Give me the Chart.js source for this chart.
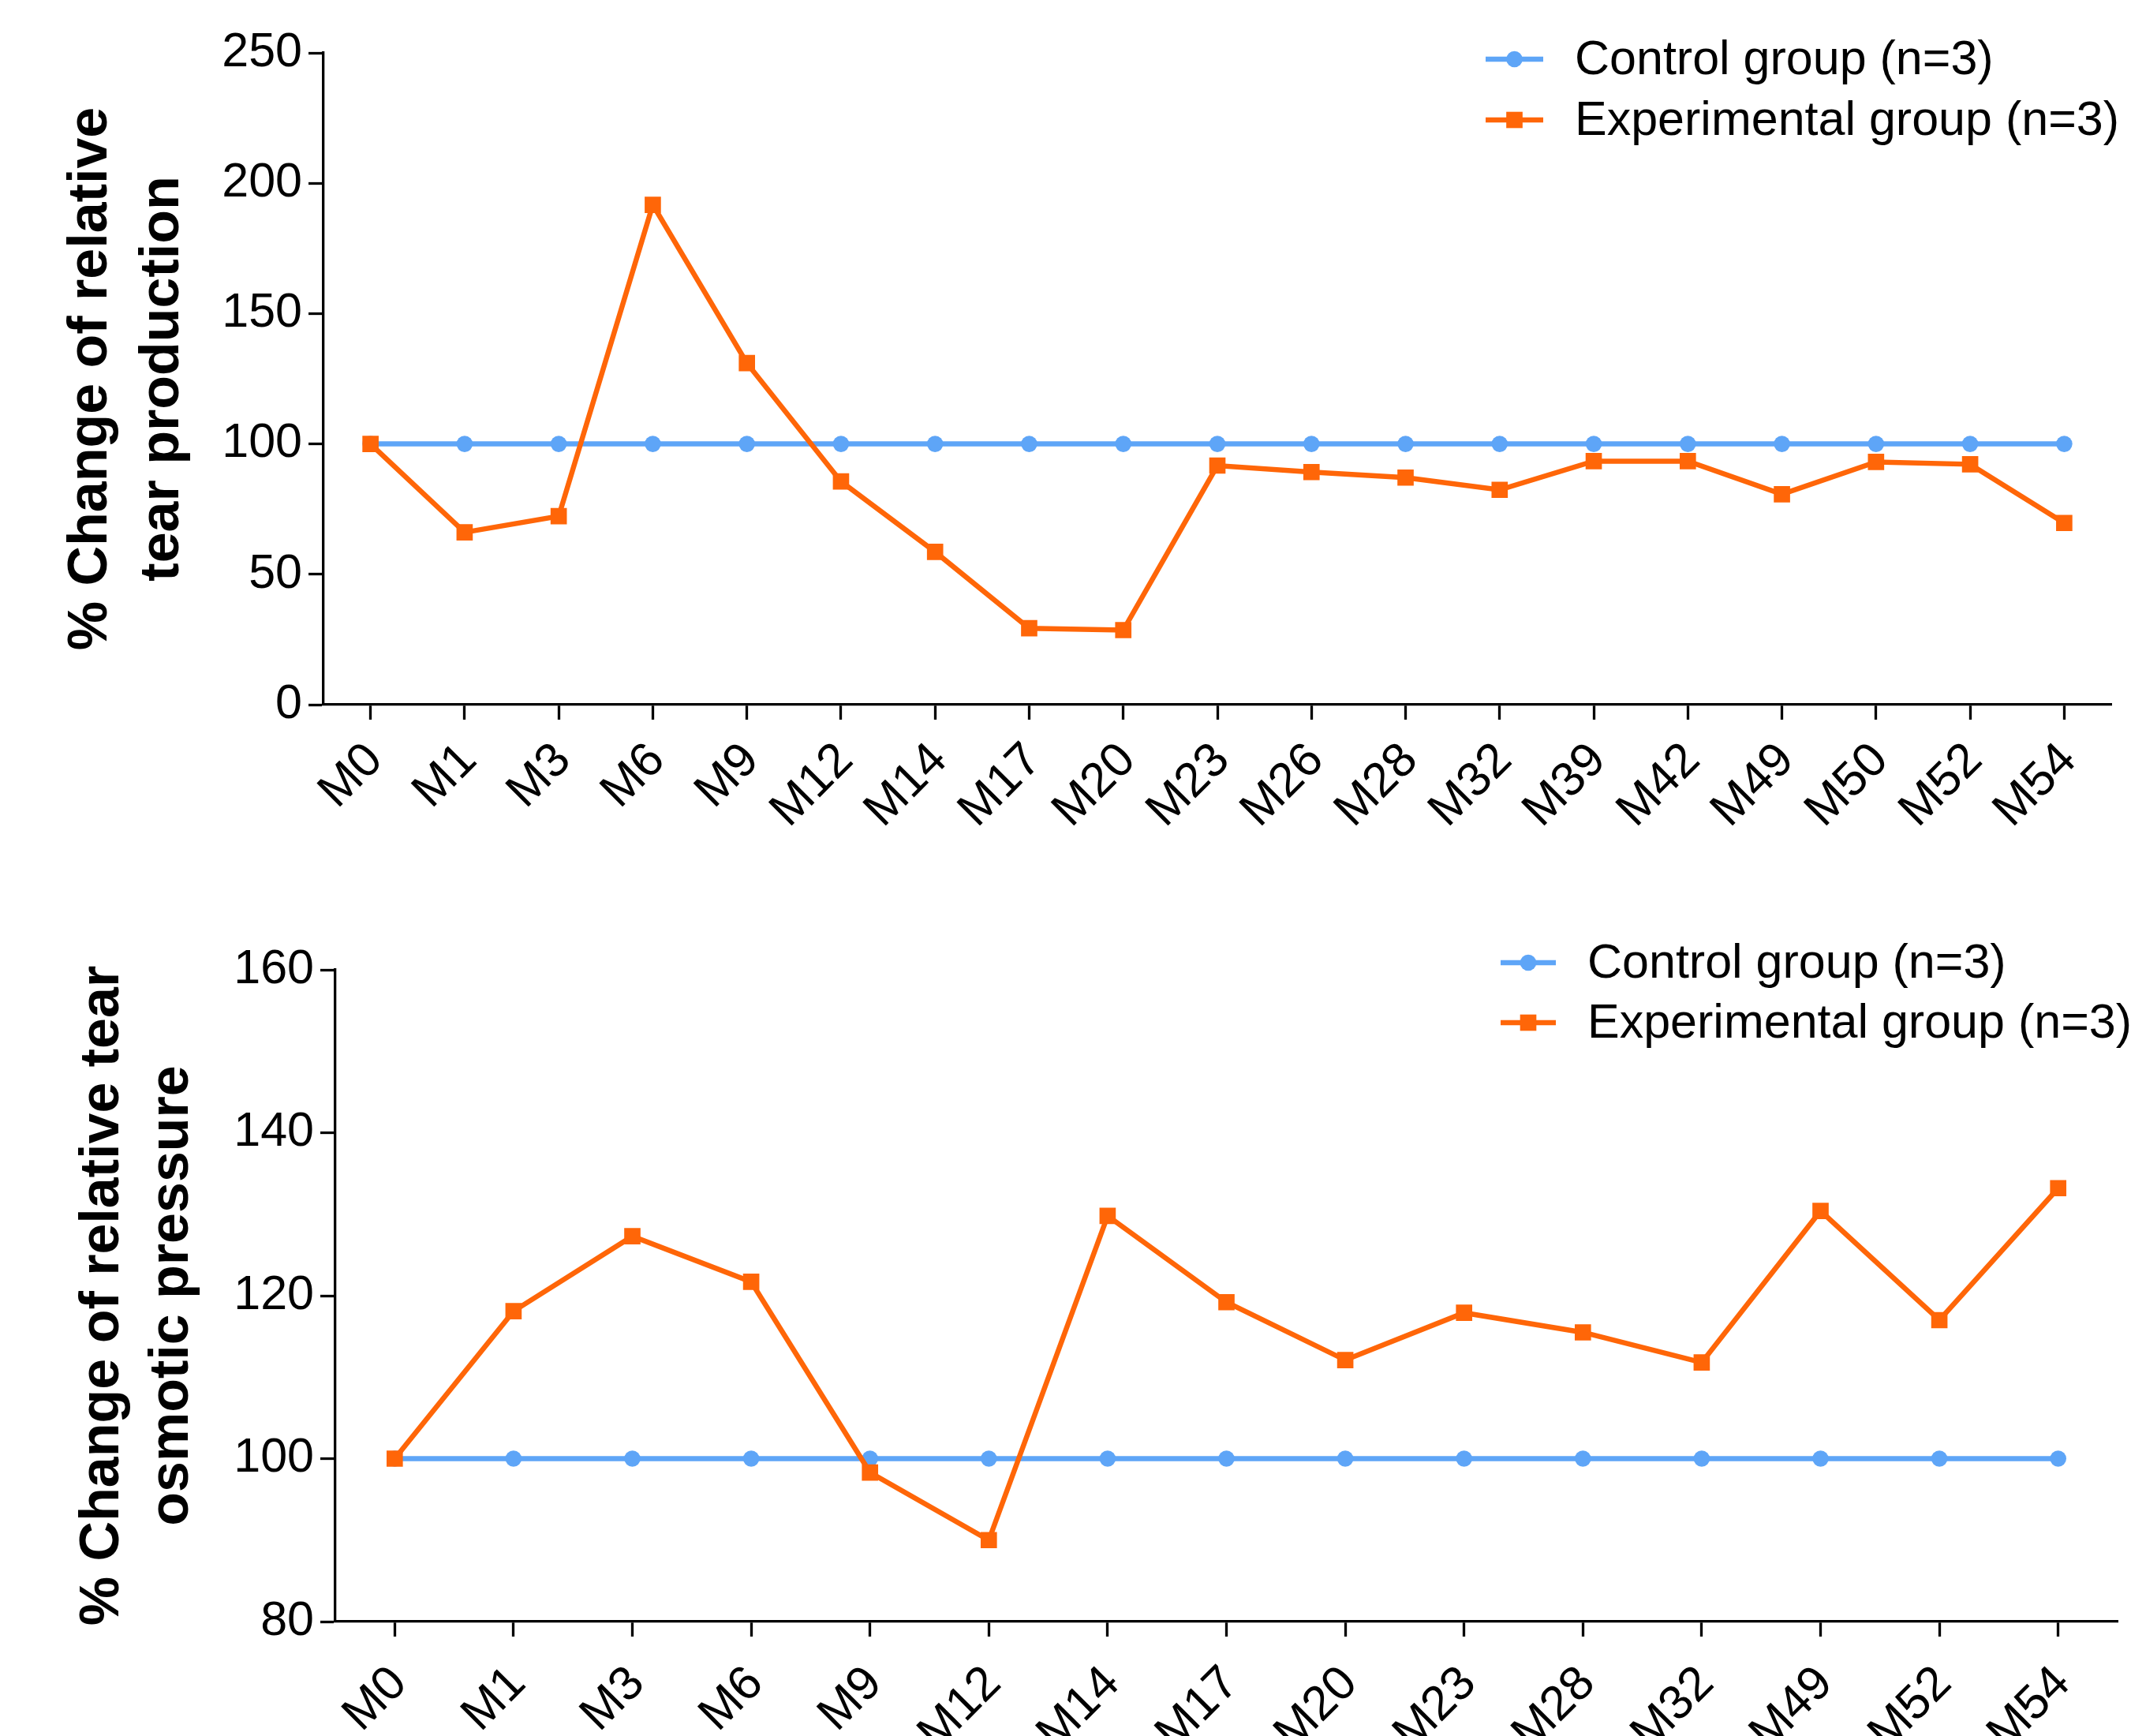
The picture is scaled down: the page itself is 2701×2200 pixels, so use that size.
<!DOCTYPE html>
<html>
<head>
<meta charset="utf-8">
<script src="https://cdn.jsdelivr.net/npm/chart.js@4.4.1/dist/chart.umd.min.js"></script>
<style>
  html, body { margin: 0; padding: 0; background: #fff; }
  canvas { display: block; }
</style>
</head>
<body>
<canvas id="graficaProduccion" width="2701" height="1100"></canvas>
<canvas id="graficaPresion" width="2701" height="1100"></canvas>
<script>
// datos
const topLabels = ["M0","M1","M3","M6","M9","M12","M14","M17","M20","M23","M26","M28","M32","M39","M42","M49","M50","M52","M54"];
const topControl = [100,100,100,100,100,100,100,100,100,100,100,100,100,100,100,100,100,100,100];
const topExperimental = [100,66.1,72.3,191.7,131.0,85.6,58.6,29.3,28.6,91.7,89.2,87.1,82.4,93.4,93.4,80.7,93.1,92.2,69.7];

const bottomLabels = ["M0","M1","M3","M6","M9","M12","M14","M17","M20","M23","M28","M32","M49","M52","M54"];
const bottomControl = [100,100,100,100,100,100,100,100,100,100,100,100,100,100,100];
const bottomExperimental = [100,118.1,127.3,121.7,98.3,90.0,129.8,119.2,112.1,117.9,115.5,111.8,130.4,117.0,133.2];

const controlName = "Control group (n=3)";
const experimentalName = "Experimental group (n=3)";
const topTitle = ["% Change of relative", "tear production"];
const bottomTitle = ["% Change of relative tear", "osmotic pressure"];

const colorControl = "rgb(94,165,247)";
const colorExperimental = "rgb(255,102,8)";
const fontFamily = '"Liberation Sans", Arial, Helvetica, sans-serif';

Chart.defaults.font.family = fontFamily;
Chart.defaults.color = "#000";

// leyenda con linea + marcador, como en la figura original
const lineLegend = {
    id: "lineLegend",
    afterDraw(chart, args, opts) {
        const ctx = chart.ctx;
        ctx.save();
        ctx.font = opts.fontSize + "px " + fontFamily;
        ctx.textBaseline = "middle";
        ctx.textAlign = "left";
        chart.data.datasets.forEach((ds, i) => {
            const y = opts.y + i * opts.rowGap;
            ctx.strokeStyle = ds.borderColor;
            ctx.lineWidth = ds.borderWidth;
            ctx.beginPath();
            ctx.moveTo(opts.x, y);
            ctx.lineTo(opts.x + opts.lineLen, y);
            ctx.stroke();
            ctx.fillStyle = ds.borderColor;
            const cx = opts.x + opts.lineLen / 2;
            if (ds.pointStyle === "rect") {
                const s = ds.pointRadius * Math.SQRT1_2;
                ctx.fillRect(cx - s, y - s, 2 * s, 2 * s);
            } else {
                ctx.beginPath();
                ctx.arc(cx, y, ds.pointRadius, 0, Math.PI * 2);
                ctx.fill();
            }
            ctx.fillStyle = "#000";
            ctx.fillText(ds.label, opts.x + opts.lineLen + opts.textGap, y + 2);
        });
        ctx.restore();
    }
};

function makeChart(id, cfg) {
    return new Chart(id, {
        type: "line",
        data: {
            labels: cfg.labels,
            datasets: [
                {
                    label: controlName,
                    data: cfg.control,
                    borderColor: colorControl,
                    backgroundColor: colorControl,
                    borderWidth: 6.5,
                    pointStyle: "circle",
                    pointRadius: 10.3,
                    pointBorderWidth: 0,
                    tension: 0,
                    order: 1
                },
                {
                    label: experimentalName,
                    data: cfg.experimental,
                    borderColor: colorExperimental,
                    backgroundColor: colorExperimental,
                    borderWidth: 6.5,
                    pointStyle: "rect",
                    pointRadius: 14.6,
                    pointBorderWidth: 0,
                    tension: 0,
                    order: 0
                }
            ]
        },
        options: {
            responsive: false,
            animation: false,
            layout: {
                padding: { top: cfg.padTop, right: cfg.padRight, left: 0, bottom: 0 }
            },
            plugins: {
                legend: { display: false },
                tooltip: { enabled: false },
                lineLegend: cfg.legend
            },
            scales: {
                x: {
                    type: "category",
                    offset: true,
                    grid: {
                        display: true,
                        drawOnChartArea: false,
                        drawTicks: true,
                        offset: false,
                        tickLength: 19,
                        tickWidth: 3.3,
                        tickColor: "#000"
                    },
                    border: { display: true, color: "#000", width: 3.3 },
                    ticks: {
                        autoSkip: false,
                        minRotation: 45,
                        maxRotation: 45,
                        padding: cfg.xPad,
                        labelOffset: 6,
                        font: { size: 61 },
                        color: "#000"
                    },
                    afterFit: (scale) => { scale.height = cfg.xHeight; }
                },
                y: {
                    min: cfg.min,
                    max: cfg.max,
                    grid: {
                        display: true,
                        drawOnChartArea: false,
                        drawTicks: true,
                        tickLength: 19,
                        tickWidth: 3.3,
                        tickColor: "#000"
                    },
                    border: { display: true, color: "#000", width: 3.3 },
                    ticks: {
                        stepSize: cfg.step,
                        padding: 8,
                        font: { size: 61 },
                        color: "#000"
                    },
                    title: {
                        display: true,
                        text: cfg.title,
                        font: { size: 70, weight: "bold", lineHeight: cfg.titleLine },
                        color: "#000",
                        padding: { top: cfg.titlePad, bottom: 0 }
                    },
                    afterFit: (scale) => { scale.width = cfg.yWidth; }
                }
            }
        },
        plugins: [lineLegend]
    });
}

makeChart("graficaProduccion", {
    labels: topLabels,
    control: topControl,
    experimental: topExperimental,
    min: 0, max: 250, step: 50,
    title: topTitle,
    titleLine: 1.29,
    titlePad: 71,
    padTop: 67,
    padRight: 25,
    yWidth: 410,
    xHeight: 207,
    xPad: 16,
    legend: { x: 1883, y: 75, rowGap: 77, lineLen: 73, textGap: 40, fontSize: 61 }
});

makeChart("graficaPresion", {
    labels: bottomLabels,
    control: bottomControl,
    experimental: bottomExperimental,
    min: 80, max: 160, step: 20,
    title: bottomTitle,
    titleLine: 1.25,
    titlePad: 87,
    padTop: 129,
    padRight: 17,
    yWidth: 425,
    xHeight: 145,
    xPad: 24,
    legend: { x: 1902, y: 120, rowGap: 76, lineLen: 70, textGap: 40, fontSize: 61 }
});
</script>
</body>
</html>
